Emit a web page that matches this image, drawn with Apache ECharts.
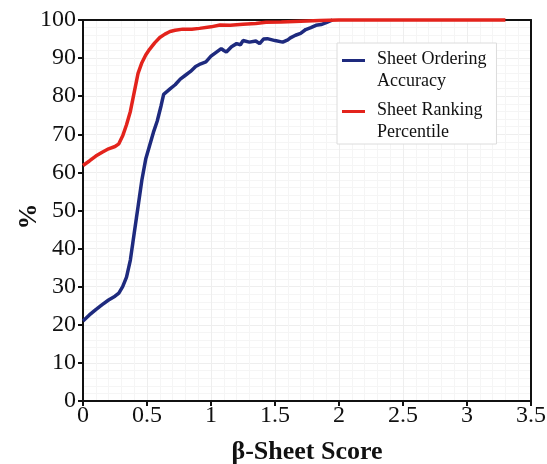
<!DOCTYPE html>
<html>
<head>
<meta charset="utf-8">
<script src="https://cdn.jsdelivr.net/npm/echarts@6/dist/echarts.min.js"></script>
<style>html,body{margin:0;padding:0;background:#fff;}#c{width:547px;height:464px;}</style>
</head>
<body>
<div id="c"></div>
<script>
const seriesNames = ['Sheet Ordering\nAccuracy', 'Sheet Ranking\nPercentile'];
const accuracyX = [0, 0.05, 0.1, 0.15, 0.2, 0.25, 0.28, 0.31, 0.34, 0.37, 0.40, 0.43, 0.46, 0.49, 0.52, 0.55, 0.58, 0.61, 0.63, 0.68, 0.72, 0.76, 0.80, 0.84, 0.88, 0.92, 0.96, 1.0, 1.04, 1.08, 1.10, 1.12, 1.16, 1.20, 1.23, 1.25, 1.30, 1.35, 1.38, 1.41, 1.44, 1.50, 1.56, 1.60, 1.62, 1.66, 1.70, 1.74, 1.78, 1.82, 1.86, 1.90, 1.95];
const accuracyY = [21, 22.6, 24, 25.3, 26.5, 27.5, 28.3, 30, 32.5, 37, 44, 51, 58, 63.5, 67, 70.5, 73.5, 77.5, 80.5, 81.9, 83, 84.5, 85.5, 86.5, 87.8, 88.5, 89, 90.5, 91.5, 92.5, 92, 91.6, 93, 93.8, 93.5, 94.6, 94.2, 94.5, 93.8, 95, 95.1, 94.6, 94.2, 94.8, 95.3, 96, 96.5, 97.5, 98, 98.6, 98.8, 99.3, 100];
const rankingX = [0, 0.05, 0.1, 0.15, 0.2, 0.25, 0.28, 0.31, 0.34, 0.37, 0.40, 0.43, 0.46, 0.49, 0.52, 0.56, 0.60, 0.64, 0.68, 0.72, 0.78, 0.85, 0.91, 1.0, 1.07, 1.15, 1.25, 1.35, 1.43, 1.55, 1.7, 1.85, 2.0, 2.5, 3.0, 3.3];
const rankingY = [61.8, 63, 64.3, 65.3, 66.2, 66.8, 67.5, 69.6, 72.5, 76, 81, 86, 88.8, 90.8, 92.3, 94, 95.4, 96.3, 97, 97.3, 97.6, 97.6, 97.8, 98.2, 98.7, 98.6, 98.9, 99.1, 99.4, 99.5, 99.7, 99.9, 100, 100, 100, 100];

const pair = (xs, ys) => xs.map((x, i) => [x, ys[i]]);
const serif = '"Liberation Serif", "DejaVu Serif", serif';
// legend icon: short bar at the top of a taller, mostly empty box so it sits beside the first text line
const legendIcon = 'path://M0,0h23v3h-23z M30,22h0.01v0.01h-0.01z';

const frameAxis = (pos) => ({
  type: 'value', position: pos, min: 0, max: pos === 'top' ? 3.5 : 100,
  axisLine: {show: true, onZero: false, lineStyle: {color: '#111', width: 2}},
  axisTick: {show: false}, axisLabel: {show: false}, splitLine: {show: false}, z: 5
});

const chart = echarts.init(document.getElementById('c'), null, {renderer: 'canvas'});
chart.setOption({
  animation: false,
  backgroundColor: '#fff',
  grid: {left: 83, right: 16, top: 20, bottom: 63, outerBoundsMode: 'none', containLabel: false},
  legend: {
    orient: 'vertical', left: 337, top: 43,
    data: seriesNames,
    icon: legendIcon, symbolKeepAspect: false, itemWidth: 30, itemHeight: 22, itemGap: 7,
    borderColor: '#dcdcdc', borderWidth: 1, padding: [5, 10, 1, 5],
    backgroundColor: '#fff',
    textStyle: {fontFamily: serif, fontSize: 18, color: '#111', lineHeight: 22}
  },
  xAxis: [{
    type: 'value', min: 0, max: 3.5, interval: 0.5,
    name: 'β-Sheet Score', nameLocation: 'middle', nameGap: 38,
    nameTextStyle: {fontFamily: serif, fontSize: 26, fontWeight: 'bold', color: '#111'},
    axisLine: {show: true, lineStyle: {color: '#111', width: 2}},
    axisTick: {show: true, length: 5, lineStyle: {color: '#111', width: 2}},
    axisLabel: {fontFamily: serif, fontSize: 24, color: '#111', margin: 3},
    splitLine: {show: true, lineStyle: {color: '#eeeeee', width: 1}},
    minorTick: {show: false, splitNumber: 5},
    minorSplitLine: {show: true, lineStyle: {color: '#f5f5f5', width: 1}}
  }, frameAxis('top')],
  yAxis: [{
    type: 'value', min: 0, max: 100, interval: 10,
    name: '%', nameLocation: 'middle', nameGap: 41, nameRotate: 90, nameMoveOverlap: false,
    nameTextStyle: {fontFamily: serif, fontSize: 26, fontWeight: 'bold', color: '#111', padding: [0, 12, 0, 0]},
    axisLine: {show: true, lineStyle: {color: '#111', width: 2}},
    axisTick: {show: true, length: 5, lineStyle: {color: '#111', width: 2}},
    axisLabel: {fontFamily: serif, fontSize: 24, color: '#111', margin: 7},
    splitLine: {show: true, lineStyle: {color: '#eeeeee', width: 1}},
    minorTick: {show: false, splitNumber: 5},
    minorSplitLine: {show: true, lineStyle: {color: '#f5f5f5', width: 1}}
  }, frameAxis('right')],
  series: [
    {name: seriesNames[0], type: 'line', data: pair(accuracyX, accuracyY), showSymbol: false, clip: false,
     lineStyle: {color: '#1e2a7e', width: 3.5}, itemStyle: {color: '#1e2a7e'}, z: 6},
    {name: seriesNames[1], type: 'line', data: pair(rankingX, rankingY), showSymbol: false, clip: false,
     lineStyle: {color: '#e3231c', width: 3.5}, itemStyle: {color: '#e3231c'}, z: 7}
  ]
});
</script>
</body>
</html>
